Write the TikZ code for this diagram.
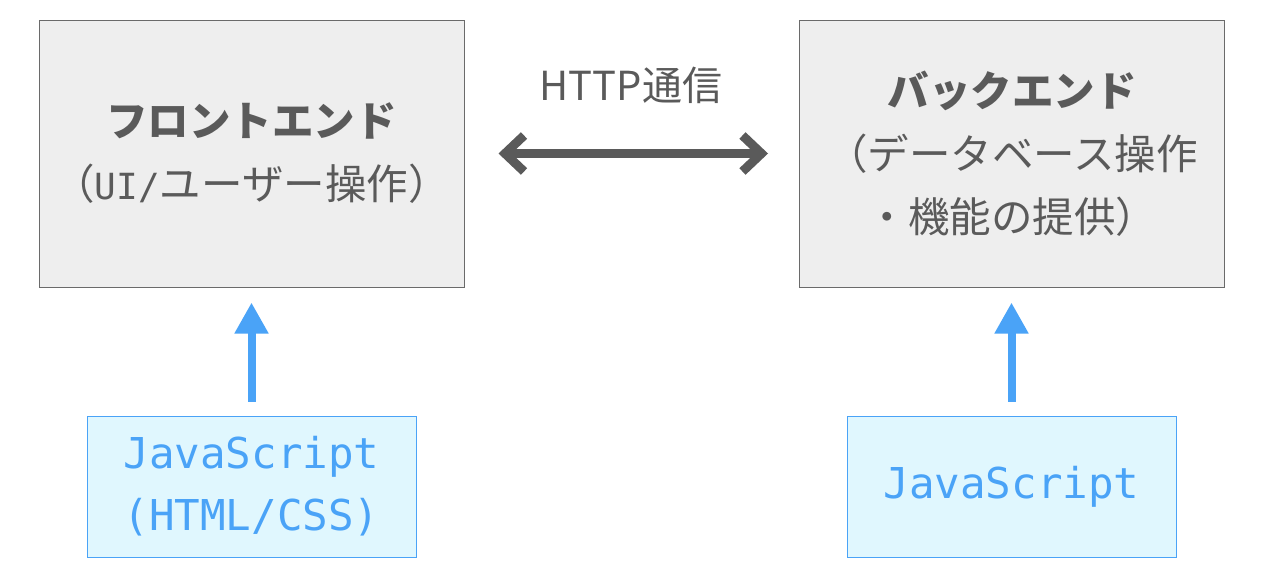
\documentclass[tikz,border=0pt]{standalone}
\usepackage{fontspec}
\newfontfamily\jp{Noto Sans CJK JP}
\newfontfamily\mono{DejaVu Sans Mono}
\usetikzlibrary{arrows.meta}
\definecolor{txtgray}{HTML}{5A5A5A}
\definecolor{boxfill}{HTML}{EEEEEE}
\definecolor{boxline}{HTML}{6A6A6A}
\definecolor{jsblue}{HTML}{4AA3F7}
\definecolor{jsfill}{HTML}{E0F7FE}
\begin{document}
\begin{tikzpicture}[x=1pt,y=-1pt,
  graybox/.style={draw=boxline, fill=boxfill, line width=1pt, minimum width=425pt, minimum height=267pt, inner sep=0pt, align=center, text=txtgray, font=\jp\fontsize{41.5}{63}\selectfont},
  jsbox/.style={draw=jsblue, fill=jsfill, line width=1pt, minimum width=329pt, minimum height=141pt, inner sep=0pt, align=center, text=jsblue, font=\mono\fontsize{42.5}{62}\selectfont},
  dblarrow/.style={draw=txtgray, line width=9pt, {Straight Barb[length=19pt,width=36pt]}-{Straight Barb[length=19pt,width=36pt]}},
  bluearrow/.style={draw=jsblue, line width=8pt, -{Triangle[length=31pt,width=32pt]}}
]
\useasboundingbox (0,0) rectangle (1266,584);
\fill[white] (0,0) rectangle (1266,584);
\node[graybox] (front) at (251.5,153.5) {{\bfseries フロントエンド}\\（{\mono\fontsize{36}{63}\selectfont UI/}ユーザー操作）};
\node[graybox] (back) at (1012,153.5) {{\bfseries バックエンド}\\（データベース操作\\・機能の提供）};
\node[jsbox] (js1) at (251.5,486.5) {JavaScript\\(HTML/CSS)};
\node[jsbox] (js2) at (1011.5,486.5) {\raisebox{-2.5pt}{JavaScript}};
\node[text=txtgray, font=\jp\fontsize{40}{42}\selectfont, inner sep=0pt] (http) at (631,85) {HTTP通信};
\draw[dblarrow, shorten <=34pt, shorten >=31pt] (front) -- (back);
\draw[bluearrow, shorten <=14pt, shorten >=15pt] (js1.north) -- (front.south);
\draw[bluearrow, shorten <=14pt, shorten >=15pt] (js2.north) -- (back.south -| js2.north);
\end{tikzpicture}
\end{document}
